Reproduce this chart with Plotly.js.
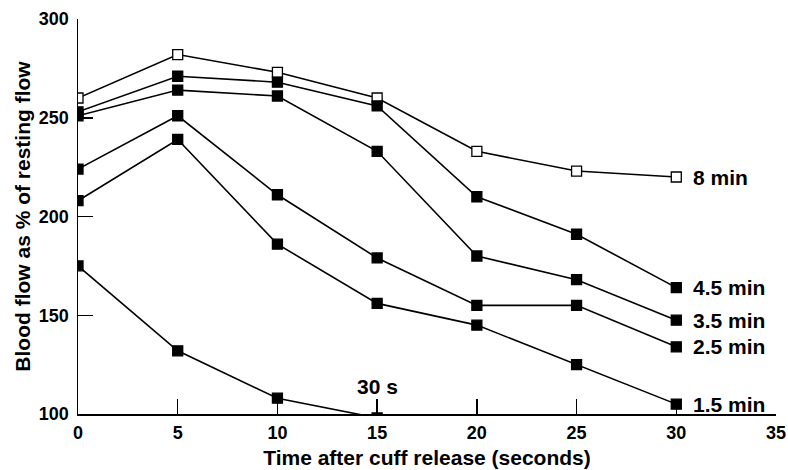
<!DOCTYPE html>
<html>
<head>
<meta charset="utf-8">
<script src="https://cdn.plot.ly/plotly-3.0.1.min.js"></script>
<style>html,body{margin:0;padding:0;background:#fff;}#chart{width:788px;height:470px;}</style>
</head>
<body>
<div id="chart"></div>
<script>
// Data
var timeSeconds = [0, 5, 10, 15, 20, 25, 30];
var seriesNames = ["8 min", "4.5 min", "3.5 min", "2.5 min", "1.5 min"];
var flow8min   = [260, 282, 273, 260, 233, 223, 220];
var flow45min  = [253, 271, 268, 256, 210, 191, 164];
var flow35min  = [251, 264, 261, 233, 180, 168, 147.5];
var flow25min  = [224, 251, 211, 179, 155, 155, 134];
var flow15min  = [208, 239, 186, 156, 145, 125, 105];
var time30s    = [0, 5, 10, 15];
var flow30s    = [175, 132, 108, 98];
var label30s   = "30 s";
var label30sX  = 15;
var label30sY  = 114;
var xTicks = [0, 5, 10, 15, 20, 25, 30, 35];
var yTicks = [100, 150, 200, 250, 300];

var FONT = "Liberation Sans, Arial, Helvetica, sans-serif";
var openFlags = [true, false, false, false, false];
var allFlows = [flow8min, flow45min, flow35min, flow25min, flow15min];

var traces = [];
allFlows.forEach(function (vals, i) {
  traces.push({
    x: timeSeconds, y: vals, type: "scatter", mode: "lines+markers",
    name: seriesNames[i],
    line: {color: "#000", width: 1.6},
    marker: {symbol: "square", size: 10,
             color: openFlags[i] ? "#fff" : "#000",
             line: {color: "#000", width: 1.3}},
    cliponaxis: true, showlegend: false
  });
});
traces.push({
  x: time30s, y: flow30s, type: "scatter", mode: "lines+markers",
  name: label30s,
  line: {color: "#000", width: 1.6},
  marker: {symbol: "square", size: 10, color: "#000", line: {color: "#000", width: 1.3}},
  cliponaxis: true, showlegend: false
});

var annotations = allFlows.map(function (vals, i) {
  return {
    x: timeSeconds[timeSeconds.length - 1], y: vals[vals.length - 1],
    xref: "x", yref: "y", text: seriesNames[i], showarrow: false,
    xanchor: "left", yanchor: "middle", xshift: 15,
    font: {family: FONT, size: 21, color: "#000", weight: "bold"}
  };
});
annotations.push({
  x: label30sX, y: label30sY, xref: "x", yref: "y", text: label30s, showarrow: false,
  xanchor: "center", yanchor: "middle",
  font: {family: FONT, size: 21, color: "#000", weight: "bold"}
});

var layout = {
  width: 788, height: 470,
  margin: {l: 78, r: 12, t: 19, b: 56, pad: 0},
  paper_bgcolor: "#fff", plot_bgcolor: "#fff",
  showlegend: false,
  xaxis: {
    range: [0, 35], tickvals: xTicks, ticktext: xTicks.map(String),
    ticks: "inside", ticklen: 15, tickwidth: 1.5, tickcolor: "#000",
    showline: true, linecolor: "#000", linewidth: 1.5,
    showgrid: false, zeroline: false, ticklabelstandoff: 2,
    tickfont: {family: FONT, size: 18, color: "#000", weight: "bold"},
    title: {text: "Time after cuff release (seconds)", standoff: 8,
            font: {family: FONT, size: 21, color: "#000", weight: "bold"}}
  },
  yaxis: {
    range: [100, 300], tickvals: yTicks, ticktext: yTicks.map(String),
    ticks: "inside", ticklen: 15, tickwidth: 1.5, tickcolor: "#000",
    showline: true, linecolor: "#000", linewidth: 1.5,
    showgrid: false, zeroline: false, ticklabelstandoff: 4,
    tickfont: {family: FONT, size: 18, color: "#000", weight: "bold"},
    title: {text: "Blood flow as % of resting flow", standoff: 2,
            font: {family: FONT, size: 21, color: "#000", weight: "bold"}}
  },
  annotations: annotations
};

Plotly.newPlot("chart", traces, layout, {staticPlot: true, displayModeBar: false});
</script>
</body>
</html>
